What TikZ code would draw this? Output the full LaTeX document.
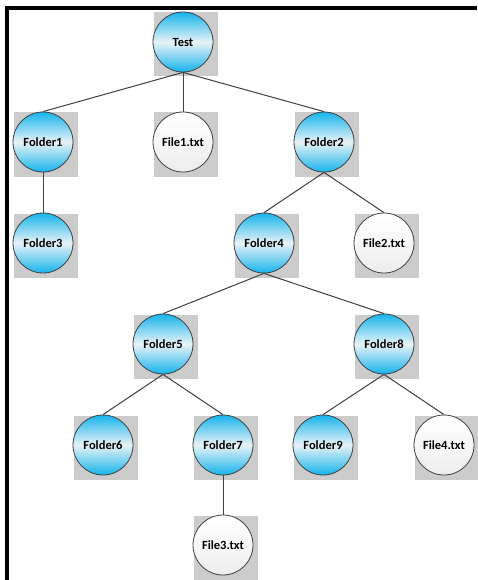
\documentclass[tikz,border=0pt]{standalone}
\usepackage{fontspec}
\setmainfont{Carlito}
\pgfdeclarelayer{back}
\pgfdeclarelayer{background}
\pgfsetlayers{back,background,main}
\definecolor{cyanf}{RGB}{22,180,236}
\definecolor{midf}{RGB}{232,242,247}
\definecolor{sqgray}{RGB}{204,204,204}
\definecolor{edgec}{RGB}{64,64,64}
\tikzset{
  treenode/.style={circle, draw=edgec, line width=0.8pt, minimum size=60pt, inner sep=0pt,
    font=\fontsize{12.5}{15}\selectfont\bfseries, text=black},
  folder/.style={treenode, top color=cyanf, bottom color=cyanf, middle color=midf},
  file/.style={treenode, top color=white, bottom color=black!7},
  edge/.style={draw=edgec, line width=1pt},
}
\newcommand{\graysq}[1]{\fill[sqgray] ([shift={(-29.5,-29.5)}]#1.center) rectangle ([shift={(34.5,34.5)}]#1.center);}
\begin{document}
\begin{tikzpicture}[x=1pt,y=-1pt]
\useasboundingbox (0,0) rectangle (477,580);
\begin{pgfonlayer}{back}
\fill[white] (0,0) rectangle (477,580);
\end{pgfonlayer}
\fill[black] (5,6) rectangle (477,10);
\fill[black] (5,6) rectangle (8.5,580);

\node[folder] (t) at (183,42) {Test};
\node[folder] (f1) at (43,142) {Folder1};
\node[file] (x1) at (183,142) {File1.txt};
\node[folder] (f2) at (324,142) {Folder2};
\node[folder] (f3) at (43,243) {Folder3};
\node[folder] (f4) at (264,243) {Folder4};
\node[file] (x2) at (384,243) {File2.txt};
\node[folder] (f5) at (163,344) {Folder5};
\node[folder] (f8) at (384,344) {Folder8};
\node[folder] (f6) at (103,445) {Folder6};
\node[folder] (f7) at (223,445) {Folder7};
\node[folder] (f9) at (323,445) {Folder9};
\node[file] (x4) at (444,445) {File4.txt};
\node[file] (x3) at (223,545) {File3.txt};

\begin{pgfonlayer}{background}
\foreach \n in {t,f1,x1,f2,f3,f4,x2,f5,f8,f6,f7,f9,x4,x3}{\graysq{\n}}
\draw[edge] (t.south) -- (f1.north);
\draw[edge] (t.south) -- (x1.north);
\draw[edge] (t.south) -- (f2.north);
\draw[edge] (f1.south) -- (f3.north);
\draw[edge] (f2.south) -- (f4.north);
\draw[edge] (f2.south) -- (x2.north);
\draw[edge] (f4.south) -- (f5.north);
\draw[edge] (f4.south) -- (f8.north);
\draw[edge] (f5.south) -- (f6.north);
\draw[edge] (f5.south) -- (f7.north);
\draw[edge] (f8.south) -- (f9.north);
\draw[edge] (f8.south) -- (x4.north);
\draw[edge] (f7.south) -- (x3.north);
\end{pgfonlayer}
\end{tikzpicture}
\end{document}
